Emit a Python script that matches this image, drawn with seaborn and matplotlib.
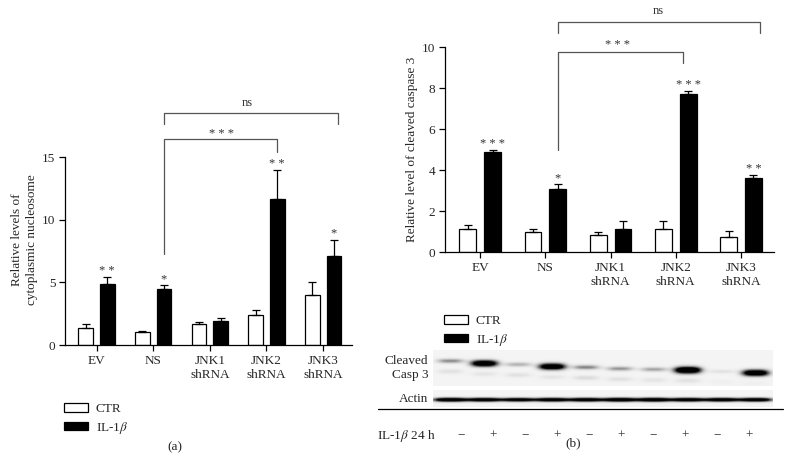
import numpy as np
import pandas as pd
import matplotlib
matplotlib.use('Agg')
import matplotlib.pyplot as plt
import seaborn as sns
from matplotlib.patches import Patch
from matplotlib.lines import Line2D
from matplotlib.transforms import blended_transform_factory

# data
groups = ['EV', 'NS', 'JNK1\nshRNA', 'JNK2\nshRNA', 'JNK3\nshRNA']
treats = ['CTR', 'IL-1$\\beta$']

# (a) cytoplasmic nucleosome
nuc_ctr = [1.33, 1.01, 1.65, 2.39, 3.96]
nuc_ctr_err = [0.32, 0.13, 0.21, 0.40, 1.09]
nuc_il = [4.87, 4.44, 1.92, 11.68, 7.08]
nuc_il_err = [0.56, 0.32, 0.26, 2.31, 1.33]
nuc_stars = ['**', '*', '', '**', '*']

# (b) cleaved caspase 3
casp_ctr = [1.14, 0.98, 0.85, 1.12, 0.73]
casp_ctr_err = [0.21, 0.16, 0.13, 0.39, 0.31]
casp_il = [4.88, 3.09, 1.12, 7.72, 3.64]
casp_il_err = [0.11, 0.23, 0.39, 0.17, 0.12]
casp_stars = ['***', '*', '', '***', '**']

# western blot, band intensity per lane
lane_signs = ['\u2212', '+'] * 5
casp3_band = [0.30, 0.90, 0.22, 0.90, 0.32, 0.28, 0.25, 1.00, 0.08, 0.90]
casp3_row = [0.30, 0.37, 0.40, 0.46, 0.48, 0.52, 0.54, 0.56, 0.60, 0.64]
casp3_faint = [0.12, 0.10, 0.12, 0.10, 0.15, 0.12, 0.10, 0.12, 0.04, 0.04]
actin_band = [0.95, 0.90, 0.85, 0.90, 0.90, 0.95, 0.95, 0.90, 0.90, 0.90]

sns.set_style('ticks')
plt.rcParams['font.family'] = ['Liberation Serif', 'DejaVu Serif']
plt.rcParams['mathtext.fontset'] = 'stix'
plt.rcParams['font.size'] = 9

W, H = 791, 466
fig = plt.figure(figsize=(W / 100, H / 100), dpi=100)


def fx(px):
    return px / W


def fy(py):
    return 1 - py / H


def bar_panel(ax, ctr, ctr_err, il, il_err, stars, ymax, yticks):
    df = pd.DataFrame({'group': groups * 2,
                       'treat': [treats[0]] * 5 + [treats[1]] * 5,
                       'value': ctr + il})
    sns.barplot(data=df, x='group', y='value', hue='treat', ax=ax,
                palette=['white', 'black'], edgecolor='black', linewidth=0.9,
                width=0.76, gap=0.32, errorbar=None, legend=False)
    for cont, vals, errs in zip(ax.containers, [ctr, il], [ctr_err, il_err]):
        xs = [p.get_x() + p.get_width() / 2 for p in cont]
        ax.errorbar(xs, vals, yerr=[np.zeros(5), errs], fmt='none',
                    ecolor='black', elinewidth=0.9, capsize=3, capthick=0.9)
    xs_il = [p.get_x() + p.get_width() / 2 for p in ax.containers[1]]
    for x, v, e, s in zip(xs_il, il, il_err, stars):
        if s:
            ax.annotate(' '.join(s), (x, v + e), xytext=(0, 0), textcoords='offset points',
                        ha='center', va='bottom', fontsize=9, color='#333333')
    ax.set_ylim(0, ymax)
    ax.set_yticks(yticks)
    ax.set_xlabel('')
    sns.despine(ax=ax)
    for sp in ['left', 'bottom']:
        ax.spines[sp].set_linewidth(0.9)
        ax.spines[sp].set_color('black')
    ax.tick_params(length=4, width=0.9, labelsize=9.5, color='black', pad=3)
    return xs_il


def bracket(ax, x0, x1, y, y0, y1, label, lx, ly):
    ax.plot([x0, x0, x1, x1], [y0, y, y, y1], color='#555555', lw=0.9, clip_on=False)
    ax.text(lx, ly, label, ha='center', va='center', fontsize=9, color='#333333')


# panel (a)
ax_a = fig.add_axes([fx(65), fy(345), fx(352 - 65), (345 - 157) / H])
xa = bar_panel(ax_a, nuc_ctr, nuc_ctr_err, nuc_il, nuc_il_err, nuc_stars, 15, [0, 5, 10, 15])
ax_a.set_xlim(-0.557, 4.51)
ax_a.set_ylabel('Relative levels of\ncytoplasmic nucleosome', fontsize=9.5, linespacing=1.25)
ax_a.yaxis.set_label_coords(-0.095, 0.56)
bracket(ax_a, xa[1], 4.27, 18.5, 17.6, 17.6, 'ns', 2.66, 19.3)
bracket(ax_a, xa[1], xa[3], 16.4, 7.3, 15.4, '* * *', 2.2, 16.85)

# panel (b)
ax_b = fig.add_axes([fx(445), fy(252.3), fx(774 - 445), (252.3 - 47.3) / H])
xb = bar_panel(ax_b, casp_ctr, casp_ctr_err, casp_il, casp_il_err, casp_stars, 10, [0, 2, 4, 6, 8, 10])
ax_b.set_xlim(-0.54, 4.506)
ax_b.set_ylabel('Relative level of cleaved caspase 3', fontsize=9.5)
ax_b.yaxis.set_label_coords(-0.082, 0.5)
bracket(ax_b, xb[1], 4.29, 11.25, 10.7, 10.7, 'ns', 2.73, 11.75)
bracket(ax_b, xb[1], xb[3] - 0.08, 9.79, 4.99, 9.24, '* * *', 2.11, 10.1)

# legends
handles = [Patch(facecolor='white', edgecolor='black', lw=0.9),
           Patch(facecolor='black', edgecolor='black', lw=0.9)]
for (lx, ly) in [(64, 403), (444, 315)]:
    fig.legend(handles, treats, loc='upper left', bbox_to_anchor=(fx(lx), fy(ly)),
               frameon=False, fontsize=9.5, handlelength=1.8, handleheight=0.6,
               handletextpad=0.6, labelspacing=0.35, borderpad=0, borderaxespad=0)


# western blot
def blot_image(intens, rows, sx, sy, faint=None, w=340, h=40):
    xx = np.linspace(0, 10, w)[None, :]
    yy = np.linspace(0, 1, h)[:, None]
    img = np.full((h, w), 0.09)
    for i, a in enumerate(intens):
        cx = i + 0.5
        s_y = sy * (0.7 + 0.6 * a)
        img += 1.5 * a * np.exp(-np.abs((xx - cx) / sx) ** 3 - ((yy - rows[i]) / s_y) ** 2)
        if faint is not None:
            img += faint[i] * np.exp(-np.abs((xx - cx) / sx) ** 3 - ((yy - rows[i] - 0.3) / 0.07) ** 2)
    return np.clip(img, 0, 1)


ax_c = fig.add_axes([fx(433), fy(386), fx(340), 36 / H])
ax_c.imshow(blot_image(casp3_band, casp3_row, 0.40, 0.075, casp3_faint), cmap='Greys',
            vmin=0, vmax=1, extent=[0, 10, 1, 0], aspect='auto', interpolation='bilinear')
ax_c.axis('off')

ax_act = fig.add_axes([fx(433), fy(407), fx(340), 17 / H])
ax_act.imshow(blot_image(actin_band, [0.6] * 10, 0.5, 0.09), cmap='Greys',
              vmin=0, vmax=1, extent=[0, 10, 1, 0], aspect='auto', interpolation='bilinear')
ax_act.axis('off')

fig.text(fx(428), fy(368), 'Cleaved\nCasp 3', ha='right', va='center', fontsize=9.5, linespacing=1.25)
fig.text(fx(428), fy(399), 'Actin', ha='right', va='center', fontsize=9.5)

fig.add_artist(Line2D([fx(378), fx(783)], [fy(409), fy(409)], color='black', lw=0.9))
fig.text(fx(377), fy(436), 'IL-1$\\beta$ 24 h', ha='left', va='center', fontsize=9.5)
tr = blended_transform_factory(ax_c.transData, fig.transFigure)
for x, s in zip(np.linspace(0.82, 9.3, 10), lane_signs):
    fig.text(x, fy(436), s, transform=tr, ha='center', va='center', fontsize=9.5)

fig.text(fx(175), fy(447), '(a)', ha='center', va='center', fontsize=9.5)
fig.text(fx(573), fy(443), '(b)', ha='center', va='center', fontsize=9.5)

fig.savefig('out.png', dpi=100)
